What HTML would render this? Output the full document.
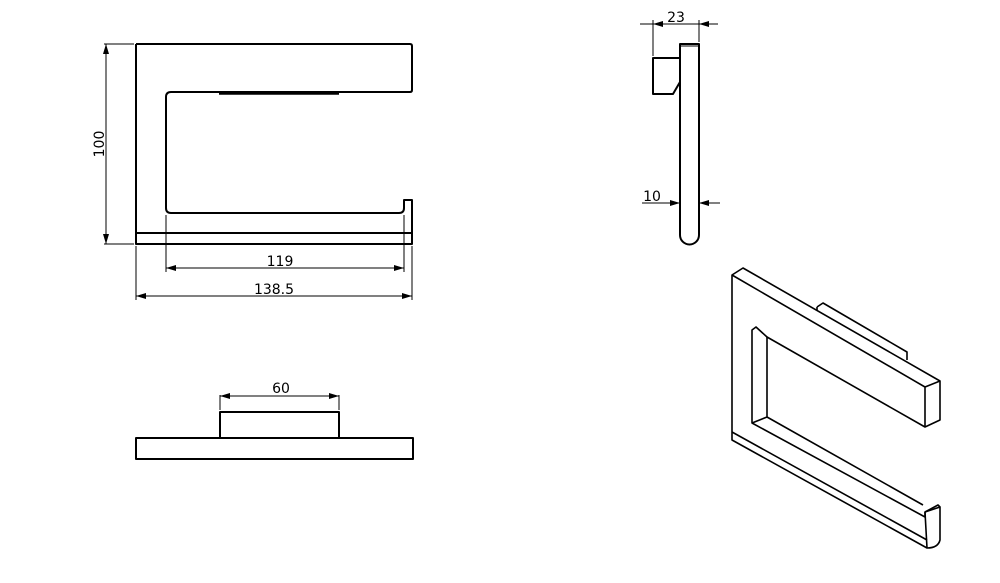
<!DOCTYPE html>
<html><head><style>body{margin:0;background:#fff}svg{display:block}text{font-family:"DejaVu Sans","Liberation Sans",sans-serif;font-size:14px;fill:#000}</style></head>
<body>
<svg width="1000" height="583" viewBox="0 0 1000 583" fill="none" stroke="#000" stroke-linejoin="round">
<defs><marker id="a" markerWidth="10" markerHeight="6" refX="10" refY="3" orient="auto-start-reverse" markerUnits="userSpaceOnUse"><path d="M0,0 L10,3 L0,6Z" fill="#000" stroke="none"/></marker></defs>
<!-- front view -->
<g stroke-width="2">
<path d="M136,44 H410 Q412,44 412,46 V90 Q412,92 410,92 H171 Q166,92 166,97 V208 Q166,213 171,213 H399 Q404,213 404,208 V200 H412 V233"/>
<path d="M136,44 V244 H412 V233 H136"/>
</g>
<path d="M219,93.5 H339" stroke-width="2.5"/>
<g stroke-width="1">
<path d="M104,44 H134 M104,244 H134"/>
<path d="M106,44 V244" marker-start="url(#a)" marker-end="url(#a)"/>
<path d="M166,215 V272 M404,215 V272 M136,246 V300 M412,246 V300"/>
<path d="M166,268 H404" marker-start="url(#a)" marker-end="url(#a)"/>
<path d="M136,296 H412" marker-start="url(#a)" marker-end="url(#a)"/>
</g>
<text x="104" y="144" text-anchor="middle" stroke="none" transform="rotate(-90 104 144)">100</text>
<text x="280" y="266" text-anchor="middle" stroke="none">119</text>
<text x="274" y="294" text-anchor="middle" stroke="none">138.5</text>
<!-- bottom view -->
<g stroke-width="2">
<rect x="136" y="438" width="277" height="21"/>
<path d="M220,438 V412 H339 V438"/>
</g>
<path d="M220,395 V410 M339,395 V410" stroke-width="1"/>
<path d="M220,396 H339" stroke-width="1" marker-start="url(#a)" marker-end="url(#a)"/>
<text x="281" y="393" text-anchor="middle" stroke="none">60</text>
<!-- side view -->
<g stroke-width="2">
<path d="M680,44 H699 V235 A9.5,9.5 0 0 1 680,235 Z"/>
<path d="M680,46 H699" stroke-width="1"/>
<path d="M680,58 H653 V94 H673 L680,82"/>
</g>
<g stroke-width="1">
<path d="M653,20 V56 M699,20 V42"/>
<path d="M640,24 H653 M699,24 H718 M699,24 H653"/>
<path d="M666,24 H653" marker-end="url(#a)"/><path d="M714,24 H699" marker-end="url(#a)"/>
<path d="M642,203 H680" marker-end="url(#a)"/><path d="M720,203 H699" marker-end="url(#a)"/>
</g>
<text x="676" y="22" text-anchor="middle" stroke="none">23</text>
<text x="652" y="201" text-anchor="middle" stroke="none">10</text>
<!-- iso view -->
<g stroke-width="1.6">
<path d="M732,275 L743,268 L940,381 L940,420 L925,427 L767,337 L756,327 L752,330 L752,423 L925,517 L925,512 L940,507 L940,540 Q938,548 927,548 L732,440 L732,275 Z"/>
<path d="M732,275 L925,387 L940,381 M925,387 V427"/>
<path d="M767,337 V417 L923,505 M767,417 L752,423"/>
<path d="M817,307 L823,303 L907,352 V360 M817,307 V310"/>
<path d="M925,512 L927,548 M925,512 L938,505 L940,507"/>
<path d="M732,432 L927,540"/>
</g>
</svg>
</body></html>
